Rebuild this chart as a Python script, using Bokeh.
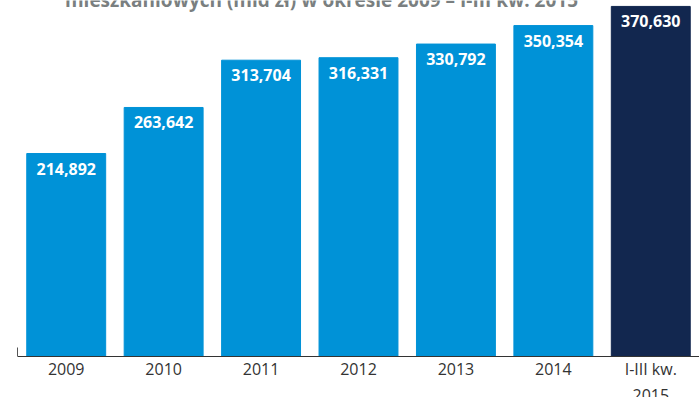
from bokeh.plotting import figure
from bokeh.models import ColumnDataSource, Range1d, FactorRange
from bokeh.core.properties import value
from bokeh.embed import file_html
from bokeh.resources import INLINE

# data
categories = ["2009", "2010", "2011", "2012", "2013", "2014", "I-III kw.\n2015"]
values_mld = [214.892, 263.642, 313.704, 316.331, 330.792, 350.354, 370.630]
title_text = "mieszkaniowych (mld zł) w okresie 2009 – I-III kw. 2015"

BLUE = "#0092D7"
NAVY = "#12274F"
colors = [BLUE] * 6 + [NAVY]
labels = [f"{v:.3f}".replace(".", ",") for v in values_mld]

src = ColumnDataSource(dict(cat=categories, val=values_mld, col=colors, lab=labels))

p = figure(x_range=FactorRange(*categories), y_range=Range1d(-43.4, 376.9),
           width=699, height=397, output_backend="svg", toolbar_location=None,
           min_border_left=17, min_border_right=0, min_border_top=0, min_border_bottom=0)
p.outline_line_color = None
p.xgrid.grid_line_color = None
p.ygrid.grid_line_color = None
p.background_fill_color = "white"
p.border_fill_color = "white"

p.vbar(x="cat", top="val", width=0.81, color="col", source=src)

p.text(x="cat", y="val", text="lab", source=src, text_align="center",
       text_baseline="top", y_offset=9, text_color="white",
       text_font=value("Open Sans"), text_font_style="bold", text_font_size="16px")

# title (clipped at the top edge like in the reference)
p.text(x=["2012"], y=[376.9], text=[title_text], text_align="center",
       text_baseline="alphabetic", x_offset=-37, y_offset=-1, text_color="#7A7F80",
       text_font=value("Open Sans"), text_font_style="bold", text_font_size="19px")

xa = p.xaxis[0]
xa.fixed_location = 0
xa.axis_line_color = "#333333"
xa.axis_line_width = 1
xa.major_tick_line_color = None
xa.minor_tick_line_color = None
xa.major_label_text_font = "Open Sans"
xa.major_label_text_font_size = "16px"
xa.major_label_text_color = "#333333"
xa.major_label_standoff = -5

ya = p.yaxis[0]
ya.bounds = (0, 9.5)
ya.axis_line_color = "#555555"
ya.major_tick_line_color = None
ya.minor_tick_line_color = None
ya.major_label_text_font_size = "0px"
ya.major_label_text_color = None

open("out.html", "w").write(file_html(p, INLINE))
